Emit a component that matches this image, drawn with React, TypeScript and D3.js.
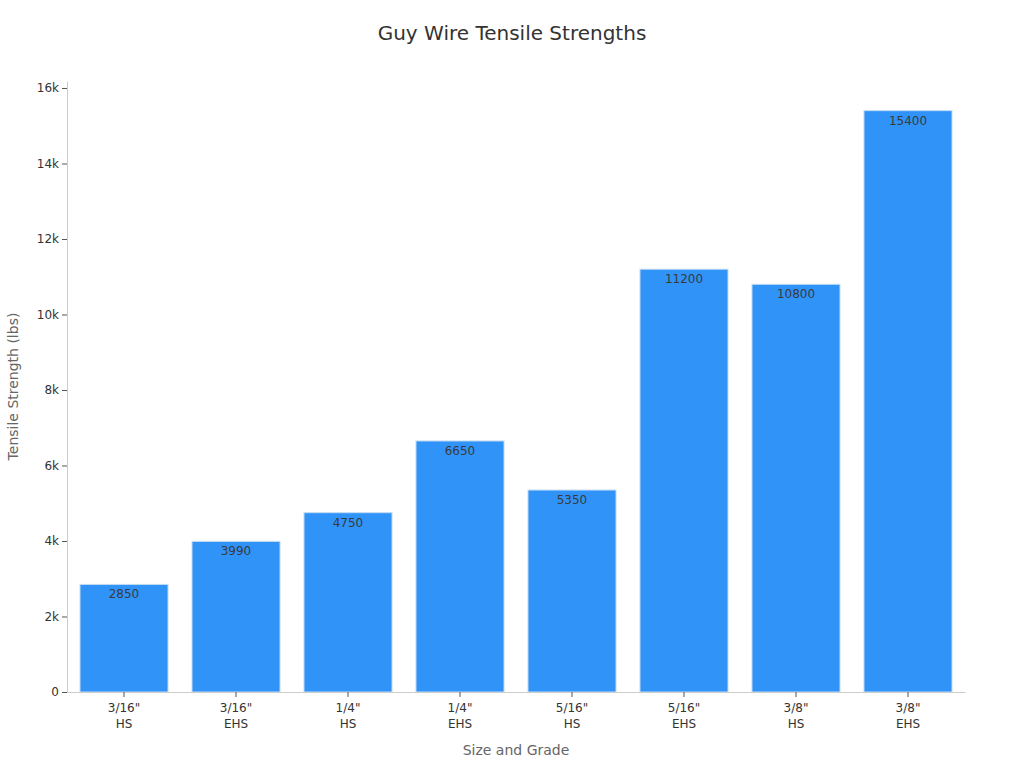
import { useRef, useEffect } from "react";
import * as d3 from "d3";

const sizes = ['3/16"', '3/16"', '1/4"', '1/4"', '5/16"', '5/16"', '3/8"', '3/8"'];
const grades = ["HS", "EHS", "HS", "EHS", "HS", "EHS", "HS", "EHS"];
const strengths = [2850, 3990, 4750, 6650, 5350, 11200, 10800, 15400];
const yTicks = [0, 2000, 4000, 6000, 8000, 10000, 12000, 14000, 16000];

const App = () => {
  const chartRef = useRef<SVGSVGElement | null>(null);

  useEffect(() => {
    if (chartRef.current === null) return;
    const width = 1024;
    const height = 768;
    const margin = { top: 81, right: 59, bottom: 76, left: 67 };
    const font = "DejaVu Sans, sans-serif";

    const svg = d3.select(chartRef.current);
    svg.selectAll("*").remove();
    svg.attr("width", width).attr("height", height).style("font-family", font);

    const keys = sizes.map((s, i) => `${i}`);
    const x = d3
      .scaleBand()
      .domain(keys)
      .range([margin.left, width - margin.right])
      .paddingInner(0.214)
      .paddingOuter(0.116);

    const y = d3
      .scaleLinear()
      .domain([0, 16185])
      .range([height - margin.bottom, margin.top]);

    // title
    svg
      .append("text")
      .attr("x", 512)
      .attr("y", 40)
      .attr("text-anchor", "middle")
      .attr("font-size", 20)
      .attr("fill", "#333")
      .text("Guy Wire Tensile Strengths");

    // bars
    svg
      .selectAll(".bar")
      .data(strengths)
      .enter()
      .append("rect")
      .attr("class", "bar")
      .attr("x", (d, i) => x(keys[i]) ?? 0)
      .attr("y", (d) => y(d))
      .attr("width", x.bandwidth())
      .attr("height", (d) => y(0) - y(d))
      .attr("fill", "#3093F8")
      .attr("stroke", "#c6dcf2")
      .attr("stroke-width", 1);

    // value labels
    svg
      .selectAll(".val")
      .data(strengths)
      .enter()
      .append("text")
      .attr("class", "val")
      .attr("x", (d, i) => (x(keys[i]) ?? 0) + x.bandwidth() / 2)
      .attr("y", (d) => y(d) + 14)
      .attr("text-anchor", "middle")
      .attr("font-size", 12)
      .attr("fill", "#3a3a3a")
      .text((d) => d);

    // y axis
    const yAxis = svg
      .append("g")
      .attr("transform", `translate(${margin.left},0)`)
      .call(
        d3
          .axisLeft(y)
          .tickValues(yTicks)
          .tickSize(5)
          .tickSizeOuter(0)
          .tickFormat((d) => (+d === 0 ? "0" : `${+d / 1000}k`))
      );
    yAxis.select(".domain").attr("stroke", "#ccc");
    yAxis.selectAll(".tick line").attr("stroke", "#555");
    yAxis
      .selectAll(".tick text")
      .attr("font-size", 12)
      .attr("fill", "#333")
      .attr("font-family", font);

    // x axis
    const xAxis = svg
      .append("g")
      .attr("transform", `translate(0,${y(0)})`)
      .call(d3.axisBottom(x).tickSize(5).tickSizeOuter(0).tickFormat(() => ""));
    xAxis.select(".domain").attr("stroke", "#ccc");
    xAxis.selectAll(".tick line").attr("stroke", "#555");
    xAxis.selectAll(".tick text").remove();

    keys.forEach((k, i) => {
      const cx = (x(k) ?? 0) + x.bandwidth() / 2;
      const t = svg
        .append("text")
        .attr("x", cx)
        .attr("y", y(0) + 20)
        .attr("text-anchor", "middle")
        .attr("font-size", 12)
        .attr("fill", "#333");
      t.append("tspan").attr("x", cx).text(sizes[i]);
      t.append("tspan").attr("x", cx).attr("dy", 16).text(grades[i]);
    });

    // axis titles
    svg
      .append("text")
      .attr("x", (margin.left + width - margin.right) / 2)
      .attr("y", 755)
      .attr("text-anchor", "middle")
      .attr("font-size", 14)
      .attr("fill", "#666")
      .text("Size and Grade");

    svg
      .append("text")
      .attr("transform", `translate(18,${(margin.top + height - margin.bottom) / 2}) rotate(-90)`)
      .attr("text-anchor", "middle")
      .attr("font-size", 14)
      .attr("fill", "#666")
      .text("Tensile Strength (lbs)");
  }, []);

  return (
    <div style={{ position: "absolute", left: 0, top: 0 }}>
      <svg ref={chartRef} />
    </div>
  );
};

export default App;
